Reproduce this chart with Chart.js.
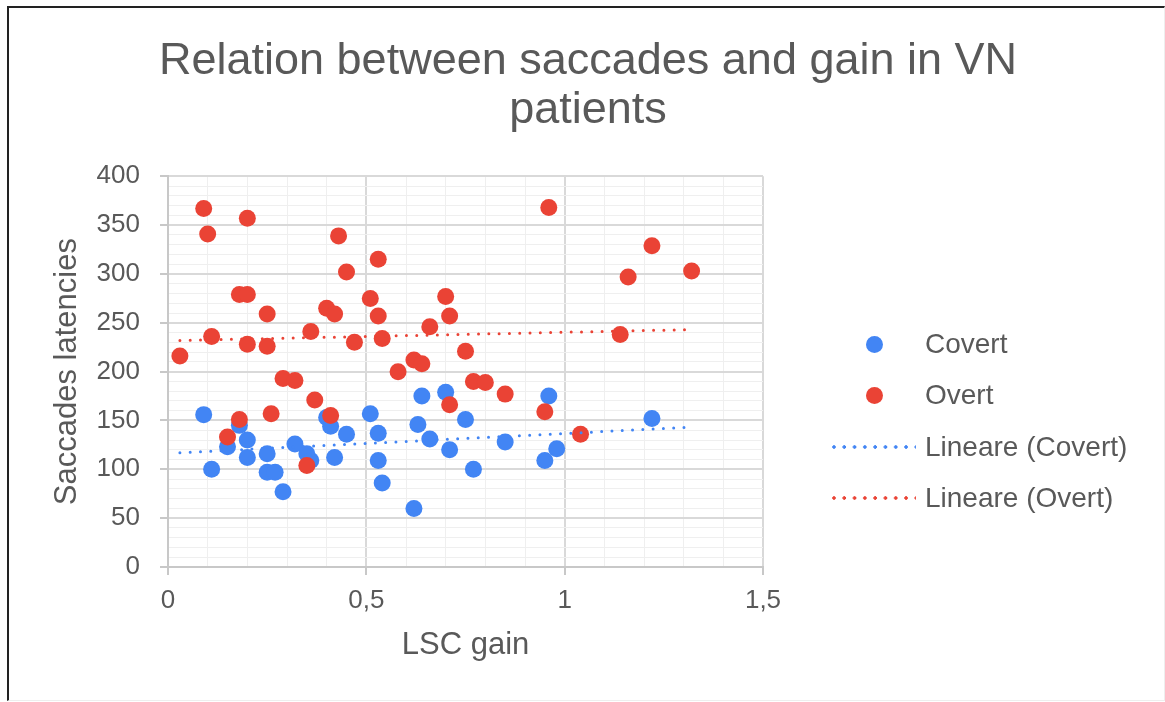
<!DOCTYPE html>
<html>
<head>
<meta charset="utf-8">
<script src="https://cdn.jsdelivr.net/npm/chart.js@4/dist/chart.umd.min.js"></script>
<style>
  body { margin: 0; background: #fff; font-family: "Liberation Sans", Arial, sans-serif; }
  #wrap { position: absolute; left: 0; top: 0; width: 1165px; height: 702px; }
  #frame { position: absolute; left: 7px; top: 6px; width: 1155px; height: 692px;
           border-left: 2px solid #222; border-top: 2px solid #222;
           border-right: 1px solid #eee; border-bottom: 1px solid #eee; }
  .leg { position: absolute; left: 0; font-size: 28px; color: #595959; white-space: nowrap; }
  .leg .dot { position: absolute; width: 17px; height: 17px; border-radius: 50%; }
  .leg .dash { position: absolute; width: 84px; height: 4px; background-repeat: repeat-x; background-size: 10.3px 4px; }
  .leg .txt { position: absolute; left: 925px; line-height: 32px; top: -16px; }
</style>
</head>
<body>
<div id="wrap">
  <div id="frame"></div>
  <canvas id="myChart"></canvas>
  <div id="legend"></div>
</div>
<script>
const covertX = [0.09, 0.11, 0.15, 0.18, 0.20, 0.20, 0.25, 0.25, 0.27, 0.29, 0.32, 0.35, 0.36, 0.40, 0.41, 0.42, 0.45,
                 0.51, 0.53, 0.53, 0.54, 0.62, 0.63, 0.64, 0.66, 0.70, 0.71, 0.75, 0.77, 0.85, 0.95, 0.96, 0.98, 1.22]
const covertY = [156, 100, 123, 145, 130, 112, 116, 97, 97, 77, 126, 116, 109, 153, 144, 112, 136,
                 157, 137, 109, 86, 60, 146, 175, 131, 179, 120, 151, 100, 128, 109, 175, 121, 152]

const overtX = [0.03, 0.09, 0.10, 0.11, 0.15, 0.18, 0.18, 0.20, 0.20, 0.20, 0.25, 0.25, 0.26, 0.29, 0.32, 0.35,
                0.36, 0.37, 0.40, 0.41, 0.42, 0.43, 0.45, 0.47, 0.51, 0.53, 0.53, 0.54, 0.58, 0.62, 0.64, 0.66,
                0.70, 0.71, 0.71, 0.75, 0.77, 0.80, 0.85, 0.95, 0.96, 1.04, 1.14, 1.16, 1.22, 1.32]
const overtY = [216, 367, 341, 236, 133, 151, 279, 279, 357, 228, 259, 226, 157, 193, 191, 104,
                241, 171, 265, 155, 259, 339, 302, 230, 275, 315, 257, 234, 200, 212, 208, 246,
                277, 257, 166, 221, 190, 189, 177, 159, 368, 136, 238, 297, 329, 303]

// trend line ends
const trendX = [0.03, 1.31]
const trendCovert = [117, 143]
const trendOvert = [232, 243]

const seriesNames = ['Covert', 'Overt', 'Lineare (Covert)', 'Lineare (Overt)']
const blue = '#4285F4'
const red = '#EA4335'
const grey = '#595959'
const font = '"Liberation Sans", Arial, sans-serif'

const pts = (xs, ys) => xs.map((x, i) => ({x: x, y: ys[i]}))

const ctx = document.getElementById('myChart').getContext('2d')
ctx.canvas.width = 1165
ctx.canvas.height = 702

const isMajorY = v => Math.abs(v % 50) < 1e-6
const isMajorX = v => Math.abs(v * 2 - Math.round(v * 2)) < 1e-6

const myChart = new Chart(ctx, {
  type: 'scatter',
  data: {
    datasets: [{
      label: seriesNames[2],
      type: 'line',
      data: pts(trendX, trendCovert),
      borderColor: blue,
      borderWidth: 3,
      borderDash: [0, 10.3],
      borderCapStyle: 'round',
      pointRadius: 0,
      fill: false,
      order: 0
    }, {
      label: seriesNames[3],
      type: 'line',
      data: pts(trendX, trendOvert),
      borderColor: red,
      borderWidth: 3,
      borderDash: [0, 10.3],
      borderCapStyle: 'round',
      pointRadius: 0,
      fill: false,
      order: 0
    }, {
      label: seriesNames[1],
      data: pts(overtX, overtY),
      backgroundColor: red,
      borderWidth: 0,
      pointRadius: 8.5,
      order: 1
    }, {
      label: seriesNames[0],
      data: pts(covertX, covertY),
      backgroundColor: blue,
      borderWidth: 0,
      pointRadius: 8.5,
      order: 2
    }]
  },
  options: {
    responsive: false,
    animation: false,
    layout: { padding: { left: 11, right: 0, top: 0, bottom: 0 } },
    plugins: {
      legend: { display: false },
      tooltip: { enabled: false },
      title: {
        display: true,
        text: ['Relation between saccades and gain in VN', 'patients'],
        color: grey,
        font: { family: font, size: 45, weight: 'normal', lineHeight: 1.07 },
        padding: { top: 38, bottom: 42 }
      }
    },
    scales: {
      x: {
        type: 'linear',
        min: 0,
        max: 1.5,
        afterFit: s => { s.height = 135 },
        ticks: {
          stepSize: 0.1,
          autoSkip: false,
          maxRotation: 0,
          padding: 10,
          color: grey,
          font: { family: font, size: 26 },
          callback: v => isMajorX(v) ? String(Math.round(v * 10) / 10).replace('.', ',') : ''
        },
        grid: {
          color: c => isMajorX(c.tick.value) ? '#d9d9d9' : '#efefef',
          lineWidth: c => isMajorX(c.tick.value) ? 2 : 1,
          tickColor: c => isMajorX(c.tick.value) ? '#c8c8c8' : 'rgba(0,0,0,0)',
          tickLength: 8
        },
        border: { color: '#c8c8c8', width: 2 },
        title: {
          display: true,
          text: 'LSC gain',
          color: grey,
          font: { family: font, size: 31 },
          padding: { top: 0, bottom: 38 }
        }
      },
      y: {
        min: 0,
        max: 400,
        afterFit: s => { s.width = 157 },
        ticks: {
          stepSize: 10,
          autoSkip: false,
          padding: 20,
          color: grey,
          font: { family: font, size: 26 },
          callback: v => isMajorY(v) ? String(v) : ''
        },
        grid: {
          color: c => isMajorY(c.tick.value) ? '#d9d9d9' : '#efefef',
          lineWidth: c => isMajorY(c.tick.value) ? 2 : 1,
          tickColor: c => isMajorY(c.tick.value) ? '#c8c8c8' : 'rgba(0,0,0,0)',
          tickLength: 8
        },
        border: { color: '#c8c8c8', width: 2 },
        title: {
          display: true,
          text: 'Saccades latencies',
          color: grey,
          font: { family: font, size: 31 },
          padding: { top: 38, bottom: 0 }
        }
      },
      // empty axis that keeps the room for the legend on the right
      yRoom: {
        position: 'right',
        min: 0,
        max: 400,
        afterFit: s => { s.width = 402 },
        ticks: { display: false },
        grid: { display: false, drawTicks: false },
        border: { display: false }
      }
    }
  }
})

// legend on the right, same order as the original
const legendRows = [
  { name: seriesNames[0], color: blue, kind: 'dot', y: 344 },
  { name: seriesNames[1], color: red, kind: 'dot', y: 395 },
  { name: seriesNames[2], color: blue, kind: 'line', y: 447 },
  { name: seriesNames[3], color: red, kind: 'line', y: 498 }
]
const legend = document.getElementById('legend')
legendRows.forEach(r => {
  const row = document.createElement('div')
  row.className = 'leg'
  row.style.top = r.y + 'px'
  const mark = document.createElement('span')
  if (r.kind === 'dot') {
    mark.className = 'dot'
    mark.style.left = '866px'
    mark.style.top = '-8.5px'
    mark.style.background = r.color
  } else {
    mark.className = 'dash'
    mark.style.left = '832px'
    mark.style.top = '-2px'
    mark.style.backgroundImage = 'radial-gradient(circle at 2px 2px, ' + r.color + ' 1.5px, rgba(255,255,255,0) 2px)'
  }
  const txt = document.createElement('span')
  txt.className = 'txt'
  txt.textContent = r.name
  row.appendChild(mark)
  row.appendChild(txt)
  legend.appendChild(row)
})
</script>
</body>
</html>
